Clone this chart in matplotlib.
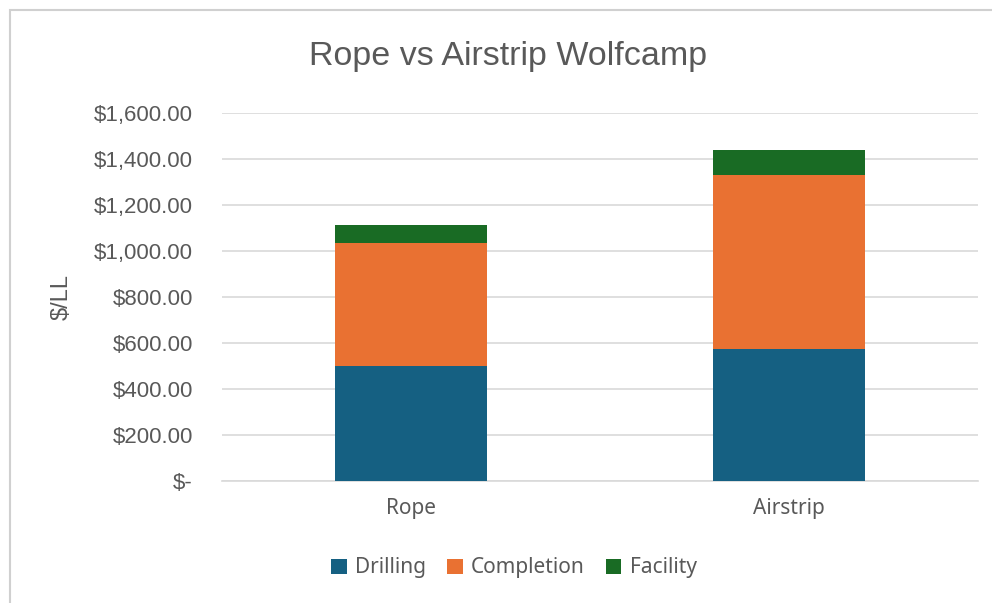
import matplotlib
matplotlib.use("Agg")
import matplotlib.pyplot as plt
import numpy as np
from matplotlib.patches import Rectangle
from matplotlib.ticker import FuncFormatter

categories = ["Rope", "Airstrip"]
drilling = [498, 574]
completion = [537, 758]
facility = [79, 105]
series_names = ["Drilling", "Completion", "Facility"]
colors = ["#156082", "#E97132", "#196B24"]
grey = "#595959"

fig = plt.figure(figsize=(9.92, 6.03), dpi=100)
fig.patches.append(Rectangle((10 / 992, -0.01), 1.02, 1 - 10 / 603 + 0.01,
                             transform=fig.transFigure, fill=False,
                             edgecolor="#d0d0d0", linewidth=1.5))

ax = fig.add_axes([222 / 992, 122 / 603, 756 / 992, (481 - 113) / 603])
x = np.arange(len(categories))
bottom = np.zeros(len(categories))
for name, vals, c in zip(series_names, [drilling, completion, facility], colors):
    ax.bar(x, vals, width=0.4, bottom=bottom, color=c, label=name, zorder=3)
    bottom += np.array(vals)

ax.set_xlim(-0.5, 1.5)
ax.set_ylim(0, 1600)
ax.set_yticks(np.arange(0, 1601, 200))
ax.yaxis.set_major_formatter(FuncFormatter(lambda v, p: "$-" if v == 0 else f"${v:,.2f}"))
ax.grid(axis="y", color="#d9d9d9", linewidth=1.2, zorder=0)
for s in ["top", "right", "left"]:
    ax.spines[s].set_visible(False)
ax.spines["bottom"].set_color("#d9d9d9")
ax.spines["bottom"].set_linewidth(1.2)
ax.tick_params(axis="both", length=0)
ax.tick_params(axis="y", labelsize=16, labelcolor=grey, pad=21)
for lab in ax.get_yticklabels():
    lab.set_fontfamily("Liberation Sans")
ax.set_xticks(x)
ax.set_xticklabels(categories, fontsize=15, color=grey, family="Noto Sans")
ax.tick_params(axis="x", pad=12)

fig.text(62 / 992, 1 - 297 / 603, "$/LL", rotation=90, ha="center", va="center",
         fontsize=17, color=grey, family="Liberation Sans")
fig.text(508 / 992, 1 - 57 / 603, "Rope vs Airstrip Wolfcamp", ha="center", va="center",
         fontsize=24.5, color=grey, family="Liberation Sans")

leg = fig.legend(loc="center", bbox_to_anchor=(514 / 992, 1 - 568 / 603), ncol=3,
                 frameon=False, handlelength=0.75, handleheight=0.75, handletextpad=0.4,
                 columnspacing=1.0, prop={"family": "Noto Sans", "size": 15})
for t in leg.get_texts():
    t.set_color(grey)

fig.savefig("out.png", dpi=100)
